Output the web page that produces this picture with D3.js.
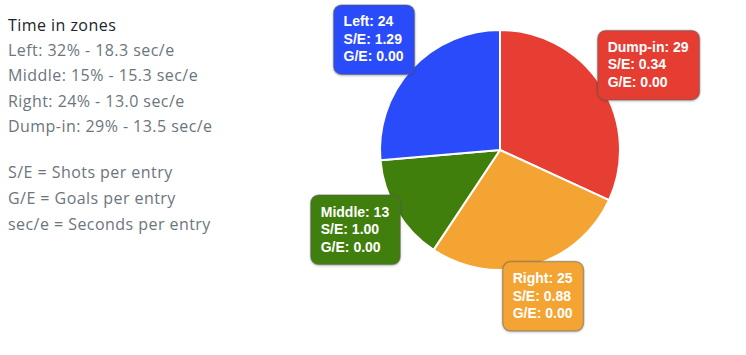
<!DOCTYPE html>
<html><head><meta charset="utf-8">
<script src="https://cdn.jsdelivr.net/npm/d3@7"></script>
<style>
html,body{margin:0;padding:0;background:#fff;}
svg{display:block;}
</style></head>
<body>
<svg id="chart" width="746" height="355"></svg>
<script>
// ---- data ----
const zones = ["Dump-in", "Right", "Middle", "Left"];
const entries = [29, 25, 13, 24];
const shotsPerEntry = [0.34, 0.88, 1.00, 1.29];
const goalsPerEntry = [0.00, 0.00, 0.00, 0.00];
const zoneColors = ["#e63e32", "#f4a433", "#407f0b", "#2a4bfa"];

const timeTitle = "Time in zones";
const timeZones = ["Left", "Middle", "Right", "Dump-in"];
const timePct = [32, 15, 24, 29];
const secPerEntry = [18.3, 15.3, 13.0, 13.5];
const legendNotes = ["S/E = Shots per entry", "G/E = Goals per entry", "sec/e = Seconds per entry"];

// ---- layout ----
const svg = d3.select("#chart");
const cx = 500, cy = 150, R = 120;

// left text block
const tx = 8;
const textFont = "'Open Sans', Lato, sans-serif";
const tfs = 16, tls = 0.45;
svg.append("text").attr("x", tx).attr("y", 31)
  .attr("font-family", textFont).attr("font-size", tfs).attr("letter-spacing", tls).attr("fill", "#212529")
  .text(timeTitle);
timeZones.forEach((z, i) => {
  svg.append("text").attr("x", tx).attr("y", 56 + i * 25.3)
    .attr("font-family", textFont).attr("font-size", tfs).attr("letter-spacing", tls).attr("fill", "#6c757d")
    .text(`${z}: ${timePct[i]}% - ${d3.format(".1f")(secPerEntry[i])} sec/e`);
});
legendNotes.forEach((t, i) => {
  svg.append("text").attr("x", tx).attr("y", 178 + i * 25.8)
    .attr("font-family", textFont).attr("font-size", tfs).attr("letter-spacing", tls).attr("fill", "#6c757d")
    .text(t);
});

// pie
const data = zones.map((z, i) => ({zone: z, value: entries[i], se: shotsPerEntry[i], ge: goalsPerEntry[i], color: zoneColors[i]}));
const pie = d3.pie().value(d => d.value).sort(null);
const arcs = pie(data);
const arc = d3.arc().innerRadius(0).outerRadius(R);
const g = svg.append("g").attr("transform", `translate(${cx},${cy})`);
g.selectAll("path").data(arcs).join("path")
  .attr("d", arc).attr("fill", d => d.data.color)
  .attr("stroke", "#fff").attr("stroke-width", 2).attr("stroke-linejoin", "round");

// shadow filter
const defs = svg.append("defs");
const f = defs.append("filter").attr("id", "sh").attr("x", "-20%").attr("y", "-20%").attr("width", "140%").attr("height", "140%");
f.append("feDropShadow").attr("dx", 0).attr("dy", 1).attr("stdDeviation", 1.2).attr("flood-color", "#000").attr("flood-opacity", 0.25);

// labels (anchor at outer arc, aligned outward)
const padX = 10, padY = 8.5, lh = 17.5, fs = 14, offset = -4;
arcs.forEach(a => {
  const lines = [`${a.data.zone}: ${a.data.value}`, `S/E: ${a.data.se.toFixed(2)}`, `G/E: ${a.data.ge.toFixed(2)}`];
  const lg = svg.append("g");
  const rect = lg.append("rect");
  const texts = lines.map((t, i) => lg.append("text")
    .attr("font-family", "'Liberation Sans', Arial, sans-serif").attr("font-weight", "bold")
    .attr("font-size", fs).attr("fill", "#fff").text(t));
  const w = d3.max(texts, t => t.node().getComputedTextLength()) + 2 * padX + 1;
  const h = lines.length * lh + 2 * padY;
  const ang = (a.startAngle + a.endAngle) / 2;
  const vx = Math.sin(ang), vy = -Math.cos(ang);
  const px = cx + vx * R, py = cy + vy * R;
  const vs = 1 / Math.max(Math.abs(vx), Math.abs(vy));
  const ccx = px + (w / 2) * vx * vs + offset * vx;
  const ccy = py + (h / 2) * vy * vs + offset * vy;
  const bx = ccx - w / 2, by = ccy - h / 2;
  rect.attr("x", bx).attr("y", by).attr("width", w).attr("height", h)
    .attr("rx", 8).attr("ry", 8).attr("fill", a.data.color)
    .attr("stroke", "rgba(90,90,90,0.45)").attr("stroke-width", 1.5)
    .attr("filter", "url(#sh)");
  texts.forEach((t, i) => t.attr("x", bx + padX).attr("y", by + padY + 13 + i * lh));
});
</script>
</body></html>
